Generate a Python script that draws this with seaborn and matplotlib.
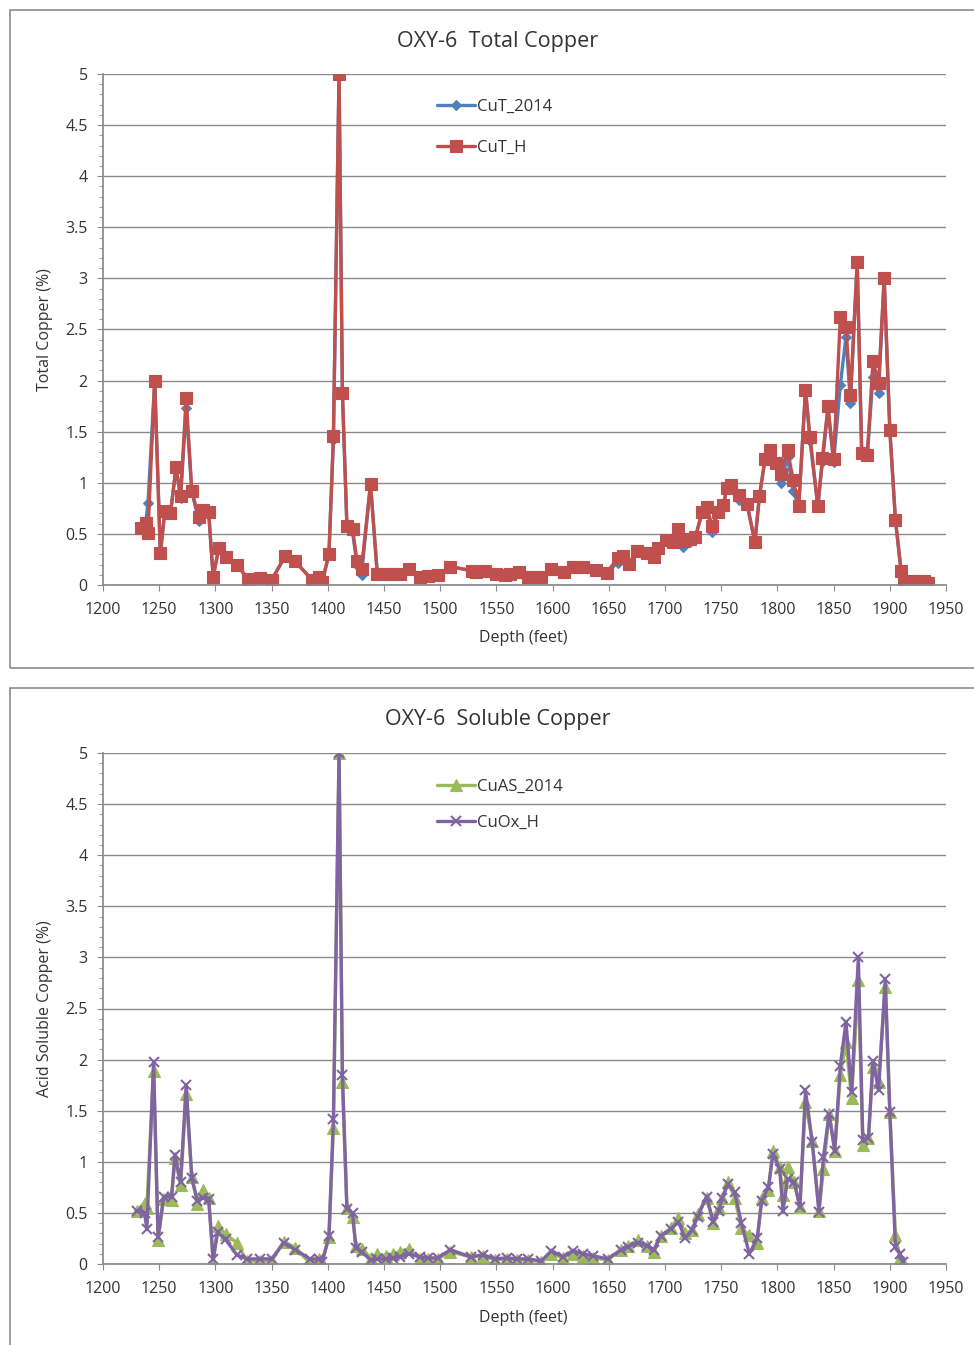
import numpy as np
import pandas as pd
import matplotlib
matplotlib.use("Agg")
import matplotlib.pyplot as plt
import seaborn as sns
from matplotlib.patches import Rectangle
from matplotlib.ticker import MultipleLocator, FuncFormatter

# ---------------- data ----------------
depth_top = [1234, 1238, 1240, 1246, 1251, 1255, 1260, 1265, 1269, 1274, 1279, 1285, 1289, 1294,
             1298, 1303, 1309, 1319, 1329, 1340, 1350, 1362, 1371, 1386, 1392, 1395, 1401, 1405,
             1410, 1413, 1417, 1422, 1426, 1430, 1438, 1444, 1452, 1458, 1464, 1472, 1482, 1489,
             1498, 1509, 1528, 1532, 1540, 1550, 1558, 1562, 1570, 1578, 1584, 1590, 1599, 1610,
             1618, 1627, 1639, 1648, 1658, 1663, 1668, 1675, 1684, 1690, 1694, 1701, 1707, 1712,
             1716, 1722, 1727, 1733, 1737, 1742, 1747, 1752, 1755, 1759, 1766, 1773, 1780, 1784,
             1789, 1793, 1799, 1803, 1809, 1814, 1819, 1825, 1829, 1836, 1840, 1845, 1850, 1856,
             1861, 1865, 1871, 1875, 1880, 1885, 1890, 1895, 1900, 1905, 1910, 1913, 1919, 1925,
             1930, 1934]
cut_h = [0.56, 0.61, 0.51, 2.00, 0.31, 0.72, 0.70, 1.15, 0.87, 1.83, 0.92, 0.67, 0.73, 0.71,
         0.08, 0.36, 0.27, 0.20, 0.06, 0.07, 0.05, 0.28, 0.23, 0.05, 0.08, 0.03, 0.30, 1.46,
         5.00, 1.88, 0.58, 0.55, 0.23, 0.16, 0.99, 0.11, 0.11, 0.11, 0.11, 0.16, 0.08, 0.09,
         0.10, 0.18, 0.14, 0.13, 0.14, 0.11, 0.10, 0.11, 0.13, 0.08, 0.08, 0.08, 0.16, 0.13,
         0.18, 0.18, 0.15, 0.12, 0.26, 0.28, 0.21, 0.33, 0.31, 0.27, 0.36, 0.44, 0.42, 0.55,
         0.43, 0.45, 0.47, 0.71, 0.76, 0.58, 0.71, 0.78, 0.95, 0.98, 0.88, 0.79, 0.42, 0.87,
         1.23, 1.32, 1.19, 1.09, 1.32, 1.03, 0.77, 1.91, 1.45, 0.77, 1.24, 1.75, 1.23, 2.62,
         2.52, 1.86, 3.16, 1.29, 1.27, 2.19, 1.98, 3.00, 1.52, 0.64, 0.14, 0.03, 0.04, 0.04,
         0.04, 0.02]
cut_2014 = [0.56, 0.61, 0.80, 2.00, 0.31, 0.72, 0.70, 1.15, 0.85, 1.73, 0.92, 0.63, 0.73, 0.71,
            0.08, 0.36, 0.27, 0.20, 0.06, 0.07, 0.05, 0.28, 0.23, 0.05, 0.08, 0.03, 0.30, 1.42,
            5.00, 1.88, 0.58, 0.52, 0.20, 0.10, 0.99, 0.11, 0.11, 0.11, 0.11, 0.16, 0.08, 0.09,
            0.10, 0.18, 0.14, 0.13, 0.14, 0.11, 0.10, 0.11, 0.13, 0.08, 0.08, 0.08, 0.16, 0.13,
            0.18, 0.18, 0.15, 0.12, 0.22, 0.28, 0.21, 0.33, 0.31, 0.27, 0.36, 0.44, 0.42, 0.55,
            0.37, 0.42, 0.47, 0.71, 0.76, 0.52, 0.71, 0.78, 0.95, 0.98, 0.83, 0.79, 0.42, 0.87,
            1.23, 1.32, 1.19, 1.00, 1.25, 0.92, 0.77, 1.91, 1.41, 0.77, 1.20, 1.72, 1.20, 1.96,
            2.43, 1.78, 3.16, 1.29, 1.27, 2.04, 1.88, 3.00, 1.52, 0.64, 0.14, 0.03, 0.04, 0.04,
            0.04, 0.02]

depth_bot = [1230, 1237, 1239, 1245, 1249, 1254, 1261, 1264, 1269, 1274, 1279, 1284, 1289, 1294,
             1298, 1302, 1309, 1319, 1328, 1340, 1350, 1361, 1371, 1384, 1392, 1395, 1401, 1405,
             1410, 1413, 1417, 1422, 1425, 1430, 1438, 1444, 1452, 1458, 1464, 1472, 1482, 1489,
             1498, 1509, 1527, 1538, 1549, 1559, 1568, 1578, 1590, 1599, 1609, 1618, 1627, 1636,
             1649, 1661, 1667, 1676, 1684, 1690, 1696, 1705, 1712, 1718, 1724, 1729, 1737, 1743,
             1748, 1751, 1756, 1762, 1768, 1775, 1782, 1786, 1792, 1796, 1802, 1805, 1809, 1815,
             1820, 1825, 1831, 1837, 1841, 1846, 1851, 1856, 1861, 1866, 1872, 1876, 1881, 1885,
             1890, 1896, 1900, 1905, 1909, 1912]
cuas_2014 = [0.52, 0.60, 0.55, 1.89, 0.23, 0.64, 0.63, 1.04, 0.77, 1.66, 0.85, 0.59, 0.72, 0.65,
             0.01, 0.37, 0.29, 0.21, 0.03, 0.03, 0.03, 0.22, 0.16, 0.01, 0.05, 0.02, 0.26, 1.33,
             5.00, 1.78, 0.55, 0.46, 0.18, 0.15, 0.06, 0.10, 0.08, 0.10, 0.12, 0.15, 0.05, 0.05,
             0.05, 0.12, 0.07, 0.08, 0.04, 0.05, 0.04, 0.04, 0.02, 0.10, 0.06, 0.10, 0.08, 0.06,
             0.04, 0.14, 0.18, 0.23, 0.18, 0.12, 0.27, 0.35, 0.45, 0.30, 0.33, 0.49, 0.65, 0.40,
             0.55, 0.65, 0.80, 0.65, 0.35, 0.28, 0.21, 0.65, 0.72, 1.11, 0.95, 0.68, 0.95, 0.80,
             0.56, 1.59, 1.20, 0.52, 0.93, 1.47, 1.11, 1.85, 2.17, 1.62, 2.78, 1.16, 1.23, 1.93,
             1.78, 2.71, 1.49, 0.28, 0.06, 0.02]
cuox_h = [0.52, 0.50, 0.34, 1.98, 0.26, 0.66, 0.66, 1.07, 0.80, 1.75, 0.84, 0.62, 0.65, 0.64,
          0.05, 0.31, 0.24, 0.09, 0.05, 0.05, 0.05, 0.21, 0.14, 0.05, 0.05, 0.02, 0.27, 1.42,
          5.00, 1.85, 0.54, 0.50, 0.16, 0.12, 0.04, 0.05, 0.05, 0.06, 0.07, 0.10, 0.07, 0.06,
          0.06, 0.14, 0.07, 0.09, 0.05, 0.06, 0.05, 0.05, 0.03, 0.13, 0.07, 0.13, 0.10, 0.08,
          0.05, 0.14, 0.17, 0.21, 0.18, 0.14, 0.27, 0.34, 0.41, 0.25, 0.33, 0.46, 0.66, 0.41,
          0.52, 0.65, 0.78, 0.70, 0.40, 0.10, 0.25, 0.62, 0.75, 1.08, 0.93, 0.52, 0.83, 0.80,
          0.56, 1.70, 1.19, 0.51, 1.05, 1.47, 1.11, 1.94, 2.37, 1.68, 3.00, 1.21, 1.23, 1.99,
          1.70, 2.79, 1.49, 0.17, 0.10, 0.02]

x_ticks = list(range(1200, 1951, 50))
y_ticks = [0, 0.5, 1, 1.5, 2, 2.5, 3, 3.5, 4, 4.5, 5]

# ---------------- style ----------------
sns.set_theme(style="white")
plt.rcParams['font.family'] = ['Open Sans', 'DejaVu Sans']

W, H = 974, 1345
fig = plt.figure(figsize=(W / 100, H / 100), dpi=100)
fig.patch.set_facecolor("white")

def fx(px):
    return px / W

def fy(py):
    return 1 - py / H

# panel borders
for (x0, y0, x1, y1) in [(10, 10, 990, 668), (10, 688, 990, 1360)]:
    fig.patches.append(Rectangle((fx(x0), fy(y1)), fx(x1 - x0), (y1 - y0) / H,
                                 transform=fig.transFigure, fill=False,
                                 edgecolor="#8c8c8c", linewidth=1.2, zorder=0))

ax_left, ax_right = 103, 946
TXT = "#333333"
panels = [
    dict(top=74, bottom=585, title="OXY-6  Total Copper", title_y=41,
         ylabel="Total Copper (%)", xlabel_y=638,
         depth=depth_top,
         series=[("CuT_2014", cut_2014, "#4F81BD", "D", 5, 1.0),
                 ("CuT_H", cut_h, "#C0504D", "s", 8, 1.0)],
         leg=(437, 99), leg_space=1.5),
    dict(top=753, bottom=1264, title="OXY-6  Soluble Copper", title_y=720,
         ylabel="Acid Soluble Copper (%)", xlabel_y=1318,
         depth=depth_bot,
         series=[("CuAS_2014", cuas_2014, "#9BBB59", "^", 9, 1.0),
                 ("CuOx_H", cuox_h, "#8064A2", "x", 7, 1.0)],
         leg=(437, 779), leg_space=1.2),
]

for p in panels:
    ax = fig.add_axes([fx(ax_left), fy(p["bottom"]), fx(ax_right - ax_left),
                       (p["bottom"] - p["top"]) / H])
    for name, vals, col, mk, ms, lw in p["series"]:
        df = pd.DataFrame({"Depth": p["depth"], "val": vals})
        kw = dict(markeredgecolor=col, markeredgewidth=1.5 if mk == "x" else 0.8)
        sns.lineplot(data=df, x="Depth", y="val", ax=ax, color=col, linewidth=2.4,
                     marker=mk, markersize=ms, label=name, **kw)
    ax.set_xlim(1200, 1950)
    ax.set_ylim(0, 5)
    ax.set_xticks(x_ticks)
    ax.set_yticks(y_ticks)
    ax.yaxis.set_minor_locator(MultipleLocator(0.1))
    ax.yaxis.set_major_formatter(FuncFormatter(lambda v, pos: f"{v:g}"))
    ax.grid(axis="y", which="major", color="#8a8a8a", linewidth=1.0)
    ax.set_axisbelow(True)
    for s in ["top", "right"]:
        ax.spines[s].set_visible(False)
    ax.spines["left"].set_color("#8a8a8a")
    ax.spines["bottom"].set_color("#8a8a8a")
    ax.tick_params(axis="both", which="major", labelsize=11.5, colors=TXT,
                   direction="out", length=4, width=0.8, pad=5, left=True, bottom=True)
    ax.tick_params(axis="x", which="major", pad=8)
    ax.tick_params(axis="y", which="minor", direction="out", length=3, width=0.6,
                   colors="#8a8a8a", left=True)
    ax.tick_params(axis="y", which="major", color="#8a8a8a", pad=7)
    ax.tick_params(axis="x", which="major", color="#8a8a8a")
    for lbl in ax.get_xticklabels() + ax.get_yticklabels():
        lbl.set_color(TXT)
    ax.set_xlabel("")
    ax.set_ylabel("")
    fig.text(fx(523), fy(p["xlabel_y"]), "Depth (feet)", ha="center", va="center",
             fontsize=11.5, color=TXT)
    fig.text(fx(45), fy((p["top"] + p["bottom"]) / 2), p["ylabel"], ha="center",
             va="center", rotation=90, fontsize=11.5, color=TXT)
    fig.text(fx(498), fy(p["title_y"]), p["title"], ha="center", va="center",
             fontsize=15.5, color=TXT)
    lx, ly = p["leg"]
    leg = ax.legend(loc="upper left",
                    bbox_to_anchor=((lx - ax_left) / (ax_right - ax_left),
                                    (p["bottom"] - ly) / (p["bottom"] - p["top"])),
                    frameon=False, fontsize=12, handlelength=2.3, handletextpad=0.1,
                    labelspacing=p["leg_space"], borderaxespad=0, borderpad=0)
    for t in leg.get_texts():
        t.set_color(TXT)

fig.savefig("out.png", dpi=100, facecolor="white")
